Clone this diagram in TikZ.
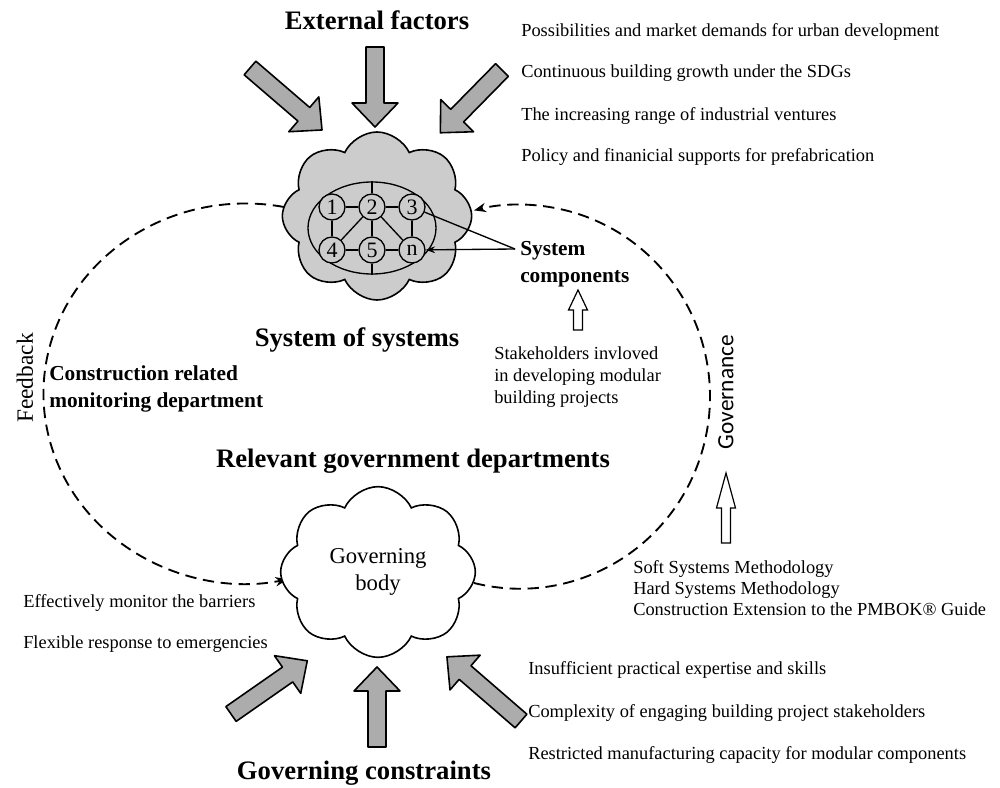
\documentclass[tikz,border=0pt]{standalone}
\usepackage{fontspec}
\setmainfont{Liberation Serif}
\newfontfamily\govfont{Carlito}
\usetikzlibrary{shapes.symbols,shapes.geometric,arrows.meta}

\tikzset{
  grayarr/.style={draw, line width=1.2pt, line join=round, fill=gray!65},
  hollowarr/.style={draw, line width=0.9pt, fill=white},
  loopline/.style={line width=1.4pt, dash pattern=on 8.5pt off 5pt},
  title/.style={font=\fontsize{20}{24}\selectfont\bfseries},
  midtitle/.style={font=\fontsize{16}{20.5}\selectfont\bfseries, align=left, anchor=west, inner sep=0pt},
  note/.style={font=\fontsize{13.8}{16.5}\selectfont, align=left, anchor=west, inner sep=0pt},
  sysnode/.style={circle, draw, line width=1pt, fill=gray!40, minimum size=19.5pt, inner sep=0pt, font=\fontsize{16.5}{16.5}\selectfont},
}

% fat arrow: tail, angle, length
\newcommand{\grayarrow}[3]{%
  \draw[grayarr, shift={(#1)}, rotate=#2] (0,-9) -- ({#3-24},-9) -- ({#3-24},-23)
    -- (#3,0) -- ({#3-24},23) -- ({#3-24},9) -- (0,9) -- cycle;}
% upward hollow arrow: tail, length
\newcommand{\hollowarrow}[2]{%
  \draw[hollowarr, shift={(#1)}] (-4.5,0) -- (-4.5,{-#2/2}) -- (-9.5,{-#2/2})
    -- (0,-#2) -- (9.5,{-#2/2}) -- (4.5,{-#2/2}) -- (4.5,0) -- cycle;}

\begin{document}
\begin{tikzpicture}[x=0.75pt,y=-0.75pt]
\useasboundingbox (0,0) rectangle (1000,788);

% external factors
\node[title] (ext) at (377,20) {External factors};
\grayarrow{250,68}{-40.7}{95}
\grayarrow{375,47}{-90}{80}
\grayarrow{502,70}{-134.5}{88}

\node[note] (pos1) at (521,32) {Possibilities and market demands for urban development};
\node[note] (pos2) at (521,73) {Continuous building growth under the SDGs};
\node[note] (pos3) at (521,116) {The increasing range of industrial ventures};
\node[note] (pos4) at (521,157) {Policy and finanicial supports for prefabrication};

% system of systems
\node[cloud, cloud puffs=8, cloud puff arc=130, cloud ignores aspect, draw, line width=1.2pt, fill=gray!40,
  minimum width=142pt, minimum height=126pt] (sos) at (377,216) {};
\node[ellipse, draw, line width=1pt, minimum width=96pt, minimum height=69pt, inner sep=0pt] (ring) at (372,228) {};
\node[sysnode] (c1) at (332,207) {1};
\node[sysnode] (c2) at (372,207) {2};
\node[sysnode] (c3) at (412,207) {3};
\node[sysnode] (c4) at (332,250) {4};
\node[sysnode] (c5) at (372,250) {5};
\node[sysnode] (cn) at (412,250) {n};
\foreach \a/\b in {c1/c2, c2/c3, c1/c4, c2/c4, c2/c5, c2/cn, c3/cn, c4/c5, c5/cn}
  \draw[line width=1pt] (\a) -- (\b);
\draw[line width=1pt] (c2) -- (ring.north);
\draw[line width=1pt] (c5) -- (ring.south);

\node[title] (sostitle) at (357,340) {System of systems};

\node[midtitle] (comp) at (520,264) {System\\components};
\coordinate (hub) at (515,249);
\draw[line width=1pt] (hub) -- (c3);
\draw[line width=1pt, -{Stealth[length=7pt,width=5pt]}] (hub) -- (cn);

\hollowarrow{578,330}{40}
\node[note] (stake) at (494,377) {Stakeholders invloved\\in developing modular\\building projects};

% loop
\coordinate (fbA) at (284,207);
\draw[loopline, -{Stealth[length=9pt,width=7pt]}] (fbA) arc[start angle=-79, end angle=-282, x radius=202, y radius=190];
\coordinate (gvA) at (474,583);
\draw[loopline, -{Stealth[length=9pt,width=7pt]}] (gvA) arc[start angle=104, end angle=-104, x radius=190, y radius=192];

\node[rotate=90, font=\fontsize{17.5}{17.5}\selectfont] (fb) at (25,378) {Feedback};
\node[rotate=90, font=\govfont\fontsize{17.5}{17.5}\selectfont] (gov) at (726,392) {Governance};

\node[midtitle] (crm) at (49,389) {Construction related\\monitoring department};
\node[title] (rel) at (413,461) {Relevant government departments};

% governing body
\node[cloud, cloud puffs=8, cloud puff arc=130, cloud ignores aspect, draw, line width=1.2pt, fill=white,
  minimum width=146pt, minimum height=128pt, align=center,
  font=\fontsize{17}{20}\selectfont] (body) at (378,572) {Governing\\body};

\hollowarrow{726,543}{70}
\node[note, font=\fontsize{13.8}{15.5}\selectfont] (meth) at (633,588) {Soft Systems Methodology\\Hard Systems Methodology\\Construction Extension to the PMBOK® Guide};

\node[note] (eff1) at (23,603) {Effectively monitor the barriers};
\node[note] (eff2) at (23,644) {Flexible response to emergencies};

% governing constraints
\grayarrow{231,714}{34.9}{93}
\grayarrow{377,747}{90}{80}
\grayarrow{521,721}{139.1}{98}
\node[title] (gcon) at (364,773) {Governing constraints};

\node[note] (con1) at (528,670) {Insufficient practical expertise and skills};
\node[note] (con2) at (528,713) {Complexity of engaging building project stakeholders};
\node[note] (con3) at (528,755) {Restricted manufacturing capacity for modular components};
\end{tikzpicture}
\end{document}
